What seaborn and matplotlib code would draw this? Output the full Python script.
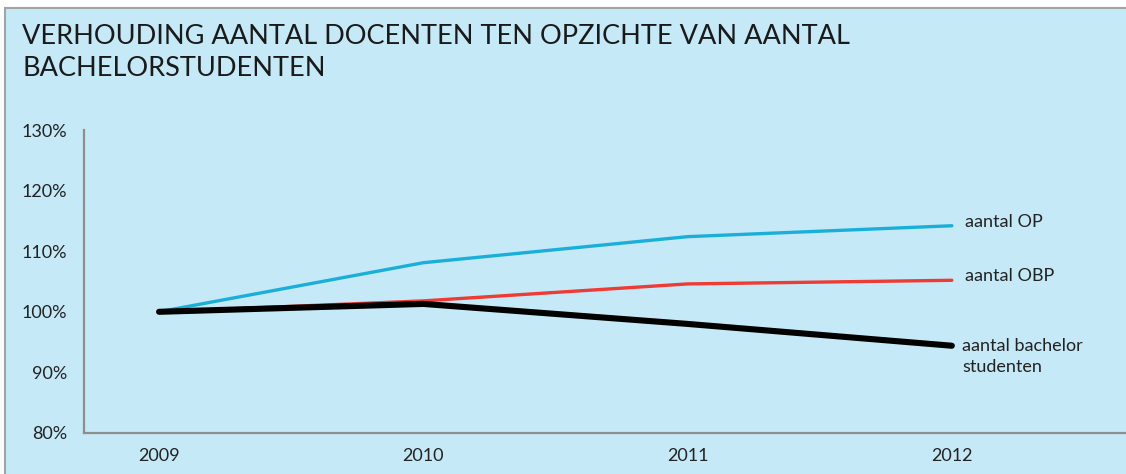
import numpy as np
import pandas as pd
import seaborn as sns
import matplotlib.pyplot as plt
from matplotlib.patches import Rectangle
from matplotlib.ticker import PercentFormatter

# data (index, 2009 = 100%)
years = ['2009', '2010', '2011', '2012']
aantal_op = [1.000, 1.081, 1.124, 1.142]
aantal_obp = [1.000, 1.018, 1.046, 1.052]
aantal_bachelor = [1.000, 1.013, 0.980, 0.944]

series_names = ['aantal OP', 'aantal OBP', 'aantal bachelor\nstudenten']
series_vals = [aantal_op, aantal_obp, aantal_bachelor]
colors = ['#1AAFDA', '#EE3B33', '#000000']
widths = [2.4, 2.4, 4.4]

bg = '#C6E9F8'

sns.set_theme(style='white')
plt.rcParams['font.family'] = ['Lato', 'DejaVu Sans']

fig = plt.figure(figsize=(11.26, 4.74), dpi=100)
fig.patch.set_facecolor('white')
# panel with grey frame on top/left
fig.patches.append(Rectangle((5 / 1126, -0.05), 1.1, (474 - 8) / 474 + 0.05,
                             transform=fig.transFigure, facecolor=bg,
                             edgecolor='#A3A3A3', linewidth=1.5, zorder=-5))

ax = fig.add_axes([84 / 1126, 1 - 433 / 474, 1 - 84 / 1126, (433 - 130) / 474])
ax.set_facecolor('none')
ax.set_zorder(2)

for name, vals, c, lw in zip(series_names, series_vals, colors, widths):
    d = pd.DataFrame({'jaar': years, 'waarde': vals})
    sns.lineplot(data=d, x='jaar', y='waarde', color=c, linewidth=lw, ax=ax,
                 solid_capstyle='round')
    if '\n' in name:
        ax.text(3.04, vals[-1] + 0.013, name, fontsize=13, color='#222222',
                va='top', ha='left', linespacing=1.4)
    else:
        ax.text(3.05, vals[-1] + 0.007, name, fontsize=13, color='#222222',
                va='center', ha='left')

ax.set_ylim(0.8, 1.3)
ax.set_xlim(-0.284, 3.659)
ax.set_yticks(np.arange(0.8, 1.31, 0.1))
ax.yaxis.set_major_formatter(PercentFormatter(1.0, decimals=0))
ax.set_xlabel('')
ax.set_ylabel('')
ax.tick_params(axis='y', labelsize=13, pad=12, length=0, colors='#222222')
ax.tick_params(axis='x', labelsize=13, pad=11, length=0, colors='#222222')

for s in ['top', 'right']:
    ax.spines[s].set_visible(False)
for s in ['left', 'bottom']:
    ax.spines[s].set_color('#8E8E8E')
    ax.spines[s].set_linewidth(1.6)

fig.text(22 / 1126, 1 - 24 / 474,
         'VERHOUDING AANTAL DOCENTEN TEN OPZICHTE VAN AANTAL\nBACHELORSTUDENTEN',
         fontsize=19.5, color='#1A1A1A', va='top', ha='left', linespacing=1.35)

fig.savefig('out.png', dpi=100, facecolor=fig.get_facecolor())
